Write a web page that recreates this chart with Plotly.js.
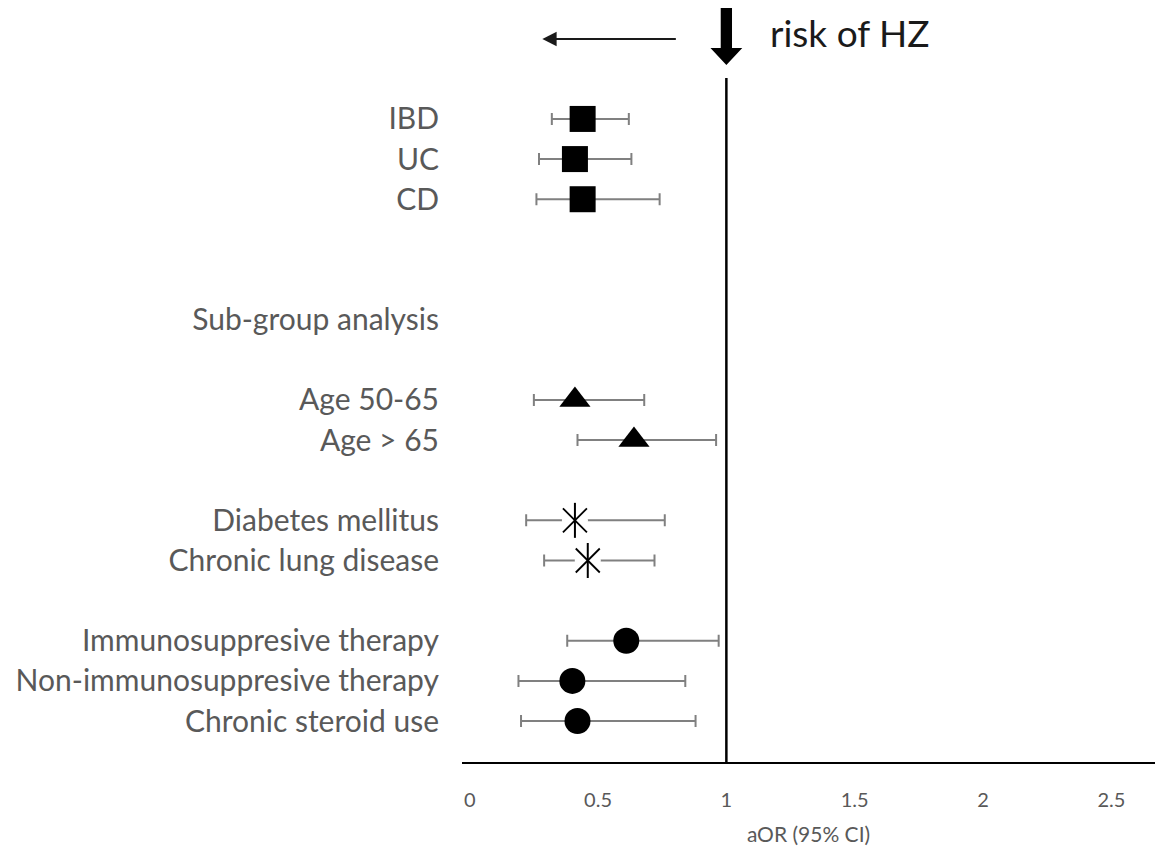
<!DOCTYPE html>
<html>
<head>
<meta charset="utf-8">
<script src="https://cdn.plot.ly/plotly-3.0.1.min.js"></script>
<style>html,body{margin:0;padding:0;background:#fff;}#chart{width:1155px;height:847px;}</style>
</head>
<body>
<div id="chart"></div>
<script>
// Row labels and their vertical slot (top to bottom)
const labels = ["IBD", "UC", "CD", "Sub-group analysis", "Age 50-65", "Age > 65",
  "Diabetes mellitus", "Chronic lung disease", "Immunosuppresive therapy",
  "Non-immunosuppresive therapy", "Chronic steroid use"];
const rowPos = [0, 1, 2, 5, 7, 8, 10, 11, 13, 14, 15];

// Disease groups (squares)
const diseaseRows = [0, 1, 2];
const diseaseOR = [0.44, 0.41, 0.44];
const diseaseLo = [0.32, 0.27, 0.26];
const diseaseHi = [0.62, 0.63, 0.74];

// Age groups (triangles)
const ageRows = [7, 8];
const ageOR = [0.41, 0.64];
const ageLo = [0.25, 0.42];
const ageHi = [0.68, 0.96];

// Comorbidities (asterisks)
const comorbRows = [10, 11];
const comorbOR = [0.41, 0.46];
const comorbLo = [0.22, 0.29];
const comorbHi = [0.76, 0.72];

// Therapies (circles)
const therapyRows = [13, 14, 15];
const therapyOR = [0.61, 0.40, 0.42];
const therapyLo = [0.38, 0.19, 0.20];
const therapyHi = [0.97, 0.84, 0.88];

const xTicks = [0, 0.5, 1, 1.5, 2, 2.5];
const xTickText = ["0", "0.5", "1", "1.5", "2", "2.5"];

const FONT = "Lato, 'Open Sans', sans-serif";
const GRAY = "#595959";
const ERR = "#808080";

function errX(or, lo, hi) {
  return {
    type: "data", symmetric: false,
    array: or.map((v, i) => hi[i] - v),
    arrayminus: or.map((v, i) => v - lo[i]),
    color: ERR, thickness: 2, width: 6
  };
}

const traces = [
  { x: diseaseOR, y: diseaseRows, type: "scatter", mode: "markers",
    marker: { symbol: "square", size: 26, color: "#000" },
    error_x: errX(diseaseOR, diseaseLo, diseaseHi) },
  { x: ageOR, y: ageRows, type: "scatter", mode: "markers",
    marker: { symbol: "triangle-up", size: 27, color: "#000" },
    error_x: errX(ageOR, ageLo, ageHi) },
  { x: comorbOR, y: comorbRows, type: "scatter", mode: "markers",
    marker: { symbol: "circle", size: 26, color: "#fff", line: { width: 0 } },
    error_x: errX(comorbOR, comorbLo, comorbHi) },
  { x: comorbOR, y: comorbRows, type: "scatter", mode: "markers",
    marker: { symbol: "x-thin-open", size: 24, color: "#000", line: { width: 1.8, color: "#000" } } },
  { x: comorbOR, y: comorbRows, type: "scatter", mode: "markers",
    marker: { symbol: "line-ns-open", size: 25, color: "#000", line: { width: 2, color: "#000" } } },
  { x: therapyOR, y: therapyRows, type: "scatter", mode: "markers",
    marker: { symbol: "circle", size: 26, color: "#000" },
    error_x: errX(therapyOR, therapyLo, therapyHi) }
];

const layout = {
  width: 1155, height: 847,
  margin: { l: 462, r: 0, t: 78, b: 85, pad: 0 },
  paper_bgcolor: "#fff", plot_bgcolor: "#fff",
  showlegend: false,
  font: { family: FONT, color: GRAY },
  xaxis: {
    range: [-0.03, 2.67], showgrid: false, zeroline: false,
    showline: true, linecolor: "#000", linewidth: 2,
    tickvals: xTicks, ticktext: xTickText, ticks: "",
    tickfont: { family: FONT, size: 20, color: GRAY },
    ticklabelstandoff: 19,
    title: { text: "aOR (95% CI)", font: { family: FONT, size: 21, color: GRAY }, standoff: 17 }
  },
  yaxis: {
    range: [16.02, -1.02], showgrid: false, zeroline: false, showline: false,
    tickvals: rowPos, ticktext: labels, ticks: "",
    tickfont: { family: FONT, size: 30, color: GRAY },
    ticklabelstandoff: 22
  },
  shapes: [
    { type: "line", xref: "x", yref: "paper", x0: 1, x1: 1, y0: 0, y1: 1,
      line: { color: "#000", width: 2.5 } },
    { type: "path", xref: "x", yref: "paper",
      path: "M0.978,1.1023 L1.022,1.1023 L1.022,1.0439 L1.062,1.0439 L1.0,1.019 L0.938,1.0439 L0.978,1.0439 Z",
      fillcolor: "#000", line: { width: 0 } }
  ],
  annotations: [
    { xref: "x", yref: "paper", x: 1.163, y: 1.067, xanchor: "left", yanchor: "middle",
      text: "risk of HZ", showarrow: false,
      font: { family: FONT, size: 37, color: "#1a1a1a" } },
    { xref: "x", yref: "paper", x: 0.283, y: 1.057, text: "", showarrow: true,
      axref: "pixel", ayref: "pixel", ax: 135, ay: 0,
      arrowhead: 2, arrowsize: 1.3, arrowwidth: 2.2, arrowcolor: "#1a1a1a", standoff: 0 }
  ]
};

Plotly.newPlot("chart", traces, layout, { displayModeBar: false, staticPlot: true });
</script>
</body>
</html>
